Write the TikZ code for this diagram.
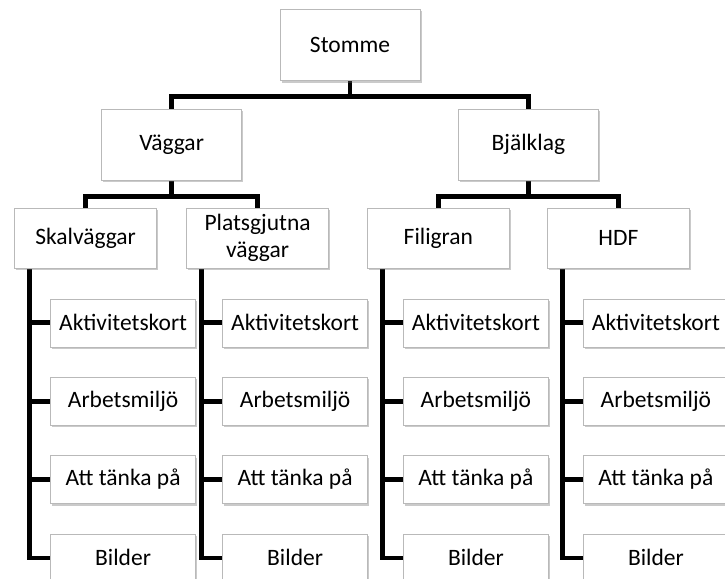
\documentclass[tikz,border=0pt]{standalone}
\usepackage{fontspec}
\setmainfont{Carlito}
\usepackage{tikz}
\usetikzlibrary{positioning, shadows, backgrounds}

\begin{document}
\begin{tikzpicture}[
    topbox/.style={rectangle, draw=gray!55, fill=white, minimum width=140pt, minimum height=71pt, font=\fontsize{23.5}{27}\selectfont, drop shadow={shadow xshift=1.5pt, shadow yshift=-2pt, fill=black!60, opacity=0.35}},
    groupbox/.style={rectangle, draw=gray!55, fill=white, minimum width=142pt, minimum height=60pt, align=center, inner sep=1pt, font=\fontsize{23.5}{27}\selectfont, drop shadow={shadow xshift=1.5pt, shadow yshift=-2pt, fill=black!60, opacity=0.35}},
    leafbox/.style={rectangle, draw=gray!55, fill=white, minimum width=145pt, minimum height=48pt, inner sep=1pt, font=\fontsize{23.5}{27}\selectfont, drop shadow={shadow xshift=1.5pt, shadow yshift=-2pt, fill=black!60, opacity=0.35}},
    conn/.style={line width=4.8pt, black}
]
    \useasboundingbox (0,0) rectangle (725pt,-578pt);

    % Root - centered at top
    \node[topbox] (stomme) at (350pt,-45pt) {Stomme};

    % Main groups
    \node[topbox, below left=28pt and 38pt of stomme] (vaggar) {Väggar};
    \node[topbox, below right=28pt and 38pt of stomme] (bjalklag) {Bjälklag};

    % Sub groups in a row
    \node[groupbox, below=28pt of vaggar, xshift=-86pt] (skal) {Skalväggar};
    \node[groupbox, below=28pt of vaggar, xshift=86pt] (plats) {Platsgjutna\\väggar};
    \node[groupbox, below=28pt of bjalklag, xshift=-90pt] (filigran) {Filigran};
    \node[groupbox, below=28pt of bjalklag, xshift=90pt] (hdf) {HDF};

    % Stems under sub groups
    \coordinate[right=15pt of skal.south west] (skalstem);
    \coordinate[right=15pt of plats.south west] (platsstem);
    \coordinate[right=15pt of filigran.south west] (filigranstem);
    \coordinate[right=15pt of hdf.south west] (hdfstem);

    % Leaves - Skalväggar
    \node[leafbox, below right=30pt and 36pt of skal.south west] (skal1) {Aktivitetskort};
    \node[leafbox, below=30pt of skal1] (skal2) {Arbetsmiljö};
    \node[leafbox, below=30pt of skal2] (skal3) {Att tänka på};
    \node[leafbox, below=30pt of skal3] (skal4) {Bilder};

    % Leaves - Platsgjutna väggar
    \node[leafbox, below right=30pt and 36pt of plats.south west] (plats1) {Aktivitetskort};
    \node[leafbox, below=30pt of plats1] (plats2) {Arbetsmiljö};
    \node[leafbox, below=30pt of plats2] (plats3) {Att tänka på};
    \node[leafbox, below=30pt of plats3] (plats4) {Bilder};

    % Leaves - Filigran
    \node[leafbox, below right=30pt and 36pt of filigran.south west] (filigran1) {Aktivitetskort};
    \node[leafbox, below=30pt of filigran1] (filigran2) {Arbetsmiljö};
    \node[leafbox, below=30pt of filigran2] (filigran3) {Att tänka på};
    \node[leafbox, below=30pt of filigran3] (filigran4) {Bilder};

    % Leaves - HDF
    \node[leafbox, below right=30pt and 36pt of hdf.south west] (hdf1) {Aktivitetskort};
    \node[leafbox, below=30pt of hdf1] (hdf2) {Arbetsmiljö};
    \node[leafbox, below=30pt of hdf2] (hdf3) {Att tänka på};
    \node[leafbox, below=30pt of hdf3] (hdf4) {Bilder};

    % Connectors behind the boxes
    \begin{scope}[on background layer]
        \draw[conn] (stomme.south) -- ++(0,-16pt) -| (vaggar.north);
        \draw[conn] (stomme.south) -- ++(0,-16pt) -| (bjalklag.north);
        \draw[conn] (vaggar.south) -- ++(0,-16pt) -| (skal.north);
        \draw[conn] (vaggar.south) -- ++(0,-16pt) -| (plats.north);
        \draw[conn] (bjalklag.south) -- ++(0,-16pt) -| (filigran.north);
        \draw[conn] (bjalklag.south) -- ++(0,-16pt) -| (hdf.north);

        \draw[conn] (skalstem) |- (skal4.west);
        \draw[conn] (skal1.west) -- (skal1.west -| skalstem);
        \draw[conn] (skal2.west) -- (skal2.west -| skalstem);
        \draw[conn] (skal3.west) -- (skal3.west -| skalstem);

        \draw[conn] (platsstem) |- (plats4.west);
        \draw[conn] (plats1.west) -- (plats1.west -| platsstem);
        \draw[conn] (plats2.west) -- (plats2.west -| platsstem);
        \draw[conn] (plats3.west) -- (plats3.west -| platsstem);

        \draw[conn] (filigranstem) |- (filigran4.west);
        \draw[conn] (filigran1.west) -- (filigran1.west -| filigranstem);
        \draw[conn] (filigran2.west) -- (filigran2.west -| filigranstem);
        \draw[conn] (filigran3.west) -- (filigran3.west -| filigranstem);

        \draw[conn] (hdfstem) |- (hdf4.west);
        \draw[conn] (hdf1.west) -- (hdf1.west -| hdfstem);
        \draw[conn] (hdf2.west) -- (hdf2.west -| hdfstem);
        \draw[conn] (hdf3.west) -- (hdf3.west -| hdfstem);
    \end{scope}

\end{tikzpicture}
\end{document}
